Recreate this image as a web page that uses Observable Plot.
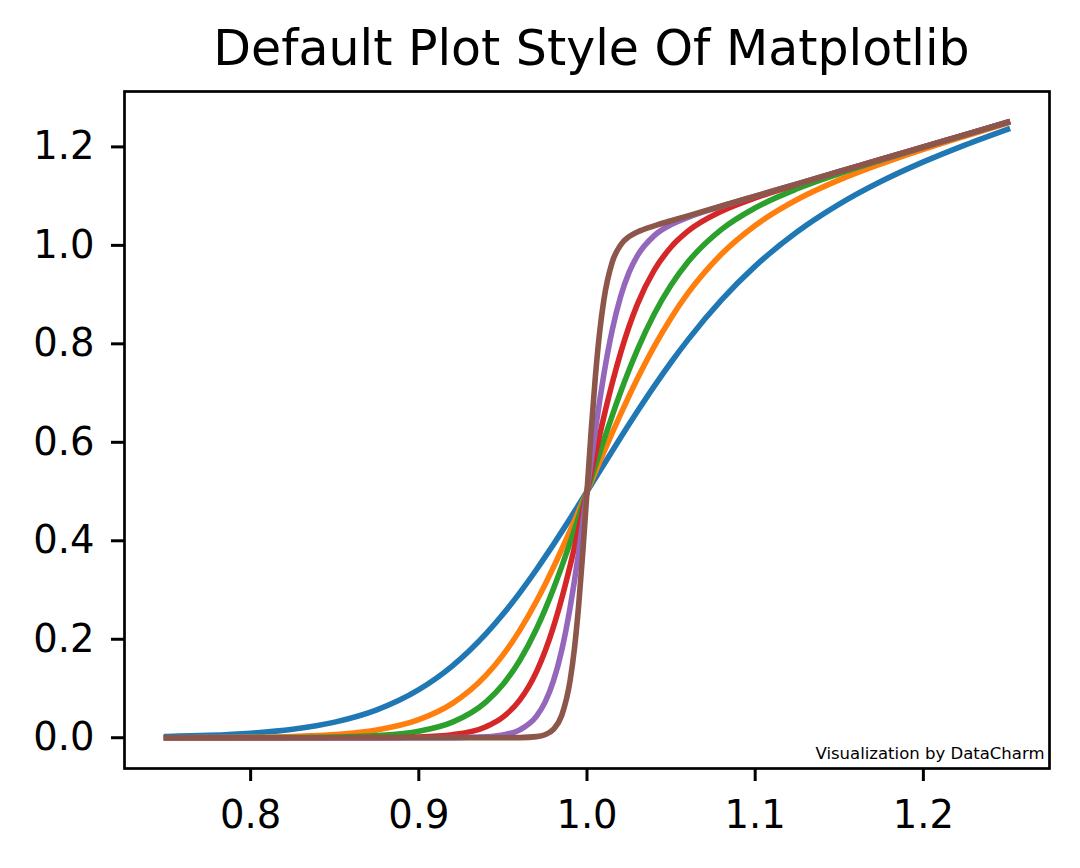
<!DOCTYPE html>
<html><head><meta charset="utf-8">
<script src="https://cdn.jsdelivr.net/npm/d3@7"></script>
<script src="https://cdn.jsdelivr.net/npm/@observablehq/plot@0.6"></script>
<style>
body{margin:0;background:#fff;}
#wrap{position:relative;width:1080px;height:868px;font-family:"DejaVu Sans",sans-serif;background:#fff;}
#title{position:absolute;left:129px;width:925px;top:9px;line-height:80px;font-size:49px;text-align:center;color:#000;white-space:nowrap;}
#chart{position:absolute;left:0;top:80px;}
</style></head><body>
<div id="wrap"><div id="title">Default Plot Style Of Matplotlib</div><div id="chart"></div></div>
<script>
const xValues = [0.75,0.775,0.8,0.825,0.85,0.875,0.9,0.92,0.94,0.95,0.96,0.97,0.975,0.98,0.985,0.99,0.9925,0.995,0.9975,1.0,1.0025,1.005,1.0075,1.01,1.015,1.02,1.025,1.03,1.04,1.05,1.06,1.08,1.1,1.125,1.15,1.175,1.2,1.225,1.25];

const blueValues = [0.0024,0.0047,0.0091,0.0172,0.0317,0.0566,0.0976, 0.1460,0.2114,0.2507,0.2943,0.3417,0.3667,0.3923,0.4186,0.4454,0.4590,0.4727,0.4863, 0.5, 0.5138,0.5275,0.5413,0.5551,0.5825,0.6097,0.6365,0.6629, 0.7141,0.7626,0.8080,0.8892,0.9578, 1.0276,1.0837,1.1301,1.1695,1.2042,1.2358];
const orangeValues = [0.0001,0.0004,0.0010,0.0026,0.0064,0.0157,0.0366, 0.0697,0.1271,0.1679,0.2180,0.2776,0.3108,0.3459,0.3828,0.4209,0.4405,0.4602,0.4800, 0.5, 0.5200,0.5400,0.5600,0.5798,0.6190,0.6572,0.6941,0.7294, 0.7949,0.8527,0.9028,0.9824,1.0404, 1.0930,1.1329,1.1657,1.1950,1.2222,1.2485];
const greenValues = [0,0,0.0001,0.0004,0.0013,0.0042,0.0131, 0.0316,0.0730,0.1082,0.1569,0.2214,0.2598,0.3022,0.3480,0.3968,0.4221,0.4478,0.4738, 0.5, 0.5263,0.5525,0.5785,0.6042,0.6543,0.7021,0.7468,0.7884, 0.8607,0.9194,0.9661,1.0325,1.0762, 1.1150,1.1457,1.1731,1.1992,1.2246,1.2498];
const redValues = [0,0,0,0,0.0001,0.0003,0.0016, 0.0061,0.0224,0.0418,0.0763,0.1344,0.1751,0.2247,0.2834,0.3502,0.3861,0.4233,0.4613, 0.5, 0.5387,0.5772,0.6148,0.6514,0.7202,0.7817,0.8352,0.8806, 0.9497,0.9967,1.0288,1.0694,1.0964, 1.1240,1.1497,1.1749,1.1999,1.2250,1.2500];
const purpleValues = [0,0,0,0,0,0,0, 0.0002,0.0019,0.0056,0.0159,0.0440,0.0718,0.1148,0.1780,0.2653,0.3178,0.3753,0.4367, 0.5, 0.5635,0.6253,0.6837,0.7374,0.8281,0.8963,0.9451,0.9791, 1.0198,1.0421,1.0569,1.0795,1.0999, 1.1250,1.1500,1.1750,1.2000,1.2250,1.2500];
const brownValues = [0,0,0,0,0,0,0, 0,0,0,0.0003,0.0022,0.0061,0.0169,0.0457,0.1170,0.1802,0.2671,0.3765, 0.5, 0.6239,0.7343,0.8229,0.8886,0.9659,1.0009,1.0177,1.0272, 1.0396,1.0499,1.0600,1.0800,1.1000, 1.1250,1.1500,1.1750,1.2000,1.2250,1.2500];

const xTicks = [0.8,0.9,1.0,1.1,1.2];
const yTicks = [0.0,0.2,0.4,0.6,0.8,1.0,1.2];
const watermark = "Visualization by DataCharm";

const seriesValues = [blueValues, orangeValues, greenValues, redValues, purpleValues, brownValues];
const palette = ["#1f77b4","#ff7f0e","#2ca02c","#d62728","#9467bd","#8c564b"];

const lineMarks = seriesValues.map((vals, i) =>
  Plot.line(xValues.map((x, j) => ({x, y: vals[j]})), {
    x: "x", y: "y", stroke: palette[i], strokeWidth: 5.6,
    curve: "monotone-x", strokeLinecap: "square", strokeLinejoin: "round"
  })
);

const plot = Plot.plot({
  width: 1080, height: 788,
  marginLeft: 124, marginRight: 31, marginTop: 11, marginBottom: 100,
  style: {fontFamily: "DejaVu Sans", background: "#fff", color: "#000"},
  x: {domain: [0.725, 1.275]},
  y: {domain: [-0.0625, 1.3125]},
  marks: [
    ...lineMarks,
    Plot.frame({stroke: "#000", strokeWidth: 2.7}),
    Plot.axisX({ticks: xTicks, tickFormat: d3.format(".1f"), tickSize: 13, tickPadding: 19, fontSize: 38.5, strokeWidth: 3, label: null}),
    Plot.axisY({ticks: yTicks, tickFormat: d3.format(".1f"), tickSize: 13, tickPadding: 17, fontSize: 38.5, strokeWidth: 3, label: null}),
    Plot.text([watermark], {frameAnchor: "bottom-right", textAnchor: "end", lineAnchor: "bottom", dx: -5, dy: -10, fontSize: 16.5, fill: "#000"})
  ]
});
document.getElementById("chart").appendChild(plot);
</script>
</body></html>
